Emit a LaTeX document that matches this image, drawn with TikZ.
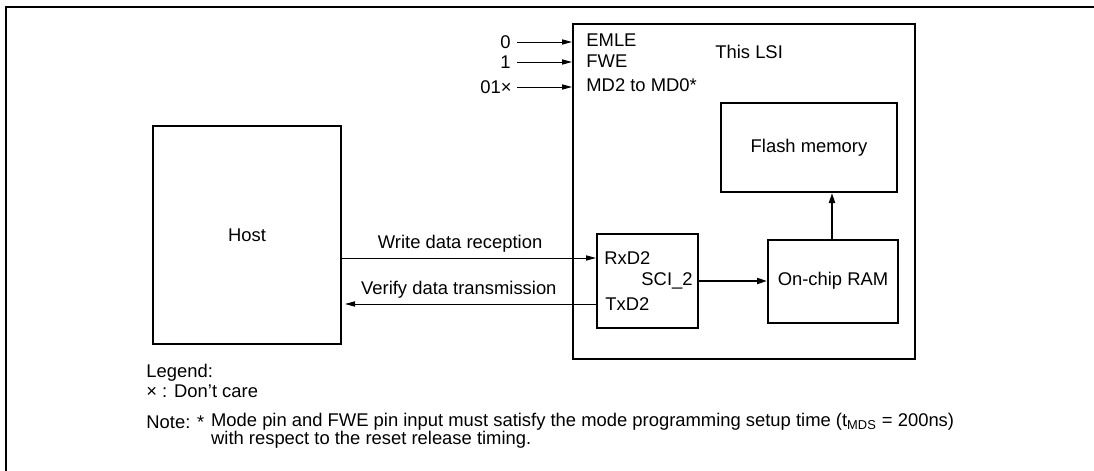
\documentclass[tikz,border=0pt]{standalone}
\usepackage{fontspec}
\setmainfont{Liberation Sans}
\usetikzlibrary{positioning, arrows.meta}

\begin{document}
\begin{tikzpicture}[x=0.5pt, y=-0.5pt,
          font=\fontsize{9.2}{11}\selectfont,
          box/.style={draw, line width=1pt, inner sep=0pt},
          txt/.style={inner sep=0pt},
          thinarrow/.style={-{Triangle[length=5pt,width=2.6pt]}, line width=0.5pt},
          thickarrow/.style={-{Triangle[length=5pt,width=3pt]}, line width=1pt}]
          \useasboundingbox (0,0) rectangle (1094,471);
          \draw[line width=0.9pt] (6,471) -- (6,7) -- (1094,7);

          % boxes
          \node[box, minimum width=171pt, minimum height=167.5pt] (lsi) at (744,191.5) {};
          \node[box, minimum width=94pt, minimum height=109pt] (host) at (247,235) {Host};
          \node[box, minimum width=50.5pt, minimum height=47pt] (sci) at (647.5,281) {};
          \node[box, minimum width=65pt, minimum height=41.5pt] (ram) at (833,281) {On-chip RAM};
          \node[box, minimum width=88pt, minimum height=44.5pt] (flash) at (809,147.5) {Flash memory};

          \node[txt, anchor=west] at (715,52) {This LSI};

          % mode pins
          \node[txt, anchor=west] (emle) at (586,40) {EMLE};
          \node[txt, anchor=west] (fwe) at (586,61) {FWE};
          \node[txt, anchor=west] (md) at (586,85) {MD2 to MD0*};
          \node[txt, anchor=east] (pin0) at (511,42) {0};
          \node[txt, anchor=east] (pin1) at (511,62) {1};
          \node[txt, anchor=east] (pin2) at (512,87) {01×};
          \draw[thinarrow] ([xshift=3pt]pin0.east) -- (pin0.east -| lsi.west);
          \draw[thinarrow] ([xshift=3pt]pin1.east) -- (pin1.east -| lsi.west);
          \draw[thinarrow] ([xshift=2.5pt]pin2.east) -- (pin2.east -| lsi.west);

          % SCI_2
          \node[txt, anchor=west] (rxd) at (604,258) {RxD2};
          \node[txt, anchor=west] (txd) at (605,304) {TxD2};
          \node[txt, anchor=east] (sci2) at (693,281) {SCI\_2};

          \draw[thinarrow] (host.east |- rxd) -- (sci.west |- rxd)
                    node[txt, pos=0.465, above=2.5pt] {Write data reception};
          \draw[thinarrow, shorten >=1.5pt] (sci.west |- txd) -- (host.east |- txd)
                    node[txt, pos=0.54, above=2.5pt] {Verify data transmission};
          \draw[thickarrow] (sci.east) -- (ram.west);
          \draw[thickarrow] ([xshift=-0.5pt]ram.north) -- ([xshift=-0.5pt]ram.north |- flash.south);

          % legend and note
          \node[txt, anchor=west] (legend) at (146,373) {Legend:};
          \node[txt, anchor=west] (dontcare) at (146,391) {× : Don’t care};
          \node[txt, anchor=west] (note) at (146,422) {Note:};
          \node[txt, right=3pt of note] (star) {*};
          \node[txt, right=3pt of star] (notetext) {Mode pin and FWE pin input must satisfy the mode programming setup time (t\textsubscript{MDS} = 200ns)};
          \node[txt, anchor=west] (notetext2) at ([yshift=-9pt]notetext.west) {with respect to the reset release timing.};
        \end{tikzpicture}
\end{document}
